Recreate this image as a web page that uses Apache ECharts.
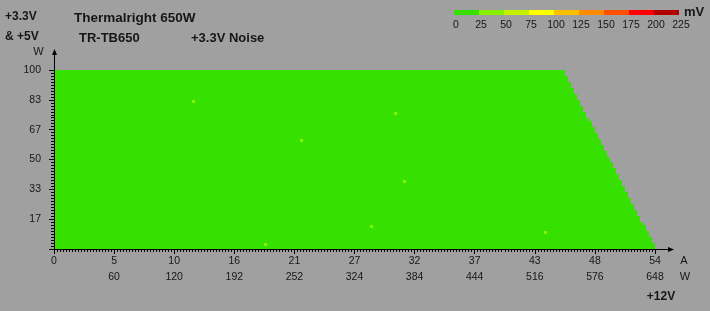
<!DOCTYPE html>
<html><head><meta charset="utf-8">
<script src="https://cdn.jsdelivr.net/npm/echarts@6/dist/echarts.min.js"></script>
<style>html,body{margin:0;padding:0;background:#a0a0a0}#c{width:710px;height:311px}</style>
</head><body><div id="c"></div>
<script>
// ---------------- data ----------------
const ampTickLabels  = ['0','5','10','16','21','27','32','37','43','48','54'];
const wattTickLabels = ['','60','120','192','252','324','384','444','516','576','648'];
const railWTickLabels = ['','17','33','50','67','83','100'];
const legendBounds = [0,25,50,75,100,125,150,175,200,225];
const legendColors = ['#36e000','#88f000','#c4f000','#ffff00','#ffc000','#ff8c00','#ff5000','#ff0000','#b00000'];
// number of filled 0.27 A columns in each 1.667 W row, bottom row first
const rowFilledCols = [200,200,199,199,198,198,197,197,196,195,
                       195,194,194,193,193,192,192,191,191,190,
                       190,189,189,188,188,187,187,186,186,185,
                       185,184,184,183,183,182,182,181,181,180,
                       180,179,179,178,177,177,176,176,175,175,
                       174,174,173,173,172,172,171,171,170,170];
const baseNoiseMv = 12;            // every cell in the 0-25 mV band
// cells in the 25-50 mV band: [column, row, mV]
const hotCells = [[46,49,32],[82,36,32],[113,45,32],[116,22,32],[105,7,32],[163,5,32],[70,1,32]];
const AMP_MAX = 54, WATT_MAX = 100, N_COLS = 200, N_ROWS = 60;

// ---------------- build table ----------------
const ampStep = AMP_MAX / N_COLS, wattStep = WATT_MAX / N_ROWS;
const hotMap = {};
hotCells.forEach(h => { hotMap[h[0] + ',' + h[1]] = h[2]; });
const cells = [];
rowFilledCols.forEach((n, r) => {
  for (let c = 0; c < n; c++) {
    const v = hotMap[c + ',' + r];
    cells.push([c * ampStep, r * wattStep, v === undefined ? baseNoiseMv : v]);
  }
});

const FONT = '"Liberation Sans", Arial, sans-serif';
const TXT = '#161616';
const chart = echarts.init(document.getElementById('c'), null, {renderer: 'canvas'});

const legendX0 = 454, legendSegW = 25;
const legendGraphics = [];
legendColors.forEach((col, i) => {
  legendGraphics.push({type: 'rect', shape: {x: legendX0 + i * legendSegW, y: 10, width: legendSegW, height: 5}, style: {fill: col}, silent: true});
});
legendBounds.forEach((b, i) => {
  legendGraphics.push({type: 'text', x: legendX0 + i * legendSegW + 2, y: 25,
    style: {text: String(b), font: '10.5px ' + FONT, fill: TXT, align: 'center', verticalAlign: 'middle'}});
});

function txt(t, x, y, font, align) {
  return {type: 'text', x: x, y: y, style: {text: t, font: font, fill: TXT, align: align || 'left', verticalAlign: 'middle'}};
}

const option = {
  backgroundColor: '#a0a0a0',
  animation: false,
  grid: {left: 54, right: 55, top: 70, bottom: 62, containLabel: false, outerBoundsMode: 'none'},
  xAxis: {
    type: 'value', min: 0, max: AMP_MAX, interval: AMP_MAX / 10,
    axisLine: {show: false},
    axisTick: {show: true, length: 5, lineStyle: {color: '#000', width: 1}},
    minorTick: {show: true, splitNumber: 20, length: 3, lineStyle: {color: '#000', width: 1}},
    splitLine: {show: false}, minorSplitLine: {show: false},
    axisLabel: {
      show: true, showMinLabel: true, showMaxLabel: true, hideOverlap: false,
      margin: 4, color: TXT, fontFamily: FONT, fontSize: 10.5, lineHeight: 16,
      formatter: v => { const i = Math.round(v / (AMP_MAX / 10)); return ampTickLabels[i] + '\n' + (wattTickLabels[i] || ' '); }
    }
  },
  yAxis: {
    type: 'value', min: 0, max: WATT_MAX, interval: WATT_MAX / 6,
    axisLine: {show: false},
    axisTick: {show: true, length: 5, lineStyle: {color: '#000', width: 1}},
    minorTick: {show: true, splitNumber: 10, length: 3, lineStyle: {color: '#000', width: 1}},
    splitLine: {show: false}, minorSplitLine: {show: false},
    axisLabel: {
      show: true, showMinLabel: true, showMaxLabel: true, hideOverlap: false,
      margin: 13, color: TXT, fontFamily: FONT, fontSize: 10.5,
      formatter: v => railWTickLabels[Math.round(v / (WATT_MAX / 6))] || ''
    }
  },
  visualMap: {
    type: 'piecewise', show: false, dimension: 2, seriesIndex: 0,
    pieces: legendColors.map((c, i) => ({gte: legendBounds[i], lt: legendBounds[i + 1], color: c}))
  },
  series: [{
    type: 'custom', coordinateSystem: 'cartesian2d', progressive: 0,
    encode: {x: 0, y: 1},
    data: cells,
    renderItem: (params, api) => {
      const a = api.value(0), w = api.value(1);
      const p0 = api.coord([a, w + wattStep]);
      const p1 = api.coord([a + ampStep, w]);
      const x0 = Math.round(p0[0]), y0 = Math.round(p0[1]);
      const x1 = Math.round(p1[0]), y1 = Math.round(p1[1]);
      return {type: 'rect', shape: {x: x0, y: y0, width: x1 - x0, height: y1 - y0}, style: {fill: api.visual('color')}, silent: true};
    }
  }],
  graphic: [
    txt('+3.3V', 5, 17, 'bold 12px ' + FONT),
    txt('& +5V', 5, 37, 'bold 12px ' + FONT),
    txt('Thermalright 650W', 74, 18, 'bold 13.5px ' + FONT),
    txt('TR-TB650', 79, 38, 'bold 13px ' + FONT),
    txt('+3.3V Noise', 191, 38, 'bold 13px ' + FONT),
    txt('mV', 684, 12, 'bold 13px ' + FONT),
    txt('+12V', 661, 297, 'bold 12px ' + FONT, 'center')
  ].concat(legendGraphics)
};
chart.setOption(option);

// axis lines with arrows, anchored to the grid through the axis scales
const o = chart.convertToPixel({gridIndex: 0}, [0, 0]);
const e = chart.convertToPixel({gridIndex: 0}, [AMP_MAX, WATT_MAX]);
const ax = Math.round(o[0]) + 0.5, ay = Math.round(o[1]) + 0.5;
const yTip = e[1] - 21, xTip = e[0] + 19;
const extra = [
  {type: 'line', z: 100, shape: {x1: ax, y1: ay, x2: ax, y2: yTip + 4}, style: {stroke: '#000', lineWidth: 1}},
  {type: 'polygon', z: 100, shape: {points: [[ax, yTip], [ax - 2.5, yTip + 6], [ax + 2.5, yTip + 6]]}, style: {fill: '#000'}},
  {type: 'line', z: 100, shape: {x1: ax - 0.5, y1: ay, x2: xTip - 4, y2: ay}, style: {stroke: '#000', lineWidth: 1}},
  {type: 'polygon', z: 100, shape: {points: [[xTip, ay], [xTip - 6, ay - 2.5], [xTip - 6, ay + 2.5]]}, style: {fill: '#000'}},
  txt('W', ax - 16, yTip + 3, '11px ' + FONT, 'center'),
  txt('A', e[0] + 29, o[1] + 12, '11px ' + FONT, 'center'),
  txt('W', e[0] + 30, o[1] + 28, '11px ' + FONT, 'center')
];
chart.setOption({graphic: option.graphic.concat(extra)});
</script>
</body></html>
